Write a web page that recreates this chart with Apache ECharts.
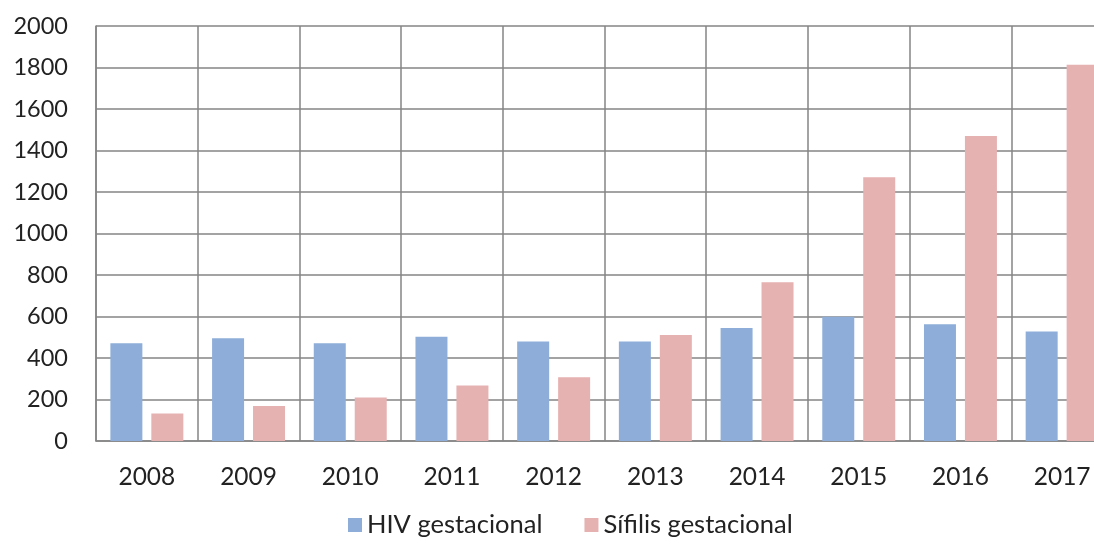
<!DOCTYPE html>
<html>
<head>
<meta charset="utf-8">
<script src="https://cdn.jsdelivr.net/npm/echarts@6/dist/echarts.min.js"></script>
<style>
  html, body { margin: 0; padding: 0; background: #fff; }
  #chart { width: 1094px; height: 551px; }
</style>
</head>
<body>
<div id="chart"></div>
<script>
// Years on the category axis
const years = ['2008', '2009', '2010', '2011', '2012', '2013', '2014', '2015', '2016', '2017'];
// Cases per year
const hivGestacional = [471, 495, 471, 503, 479, 479, 545, 599, 563, 528];
const sifilisGestacional = [133, 169, 210, 267, 307, 511, 765, 1271, 1470, 1813];
// Value axis ticks
const yTicks = [0, 200, 400, 600, 800, 1000, 1200, 1400, 1600, 1800, 2000];

const FONT = 'Lato';
const GRID_COLOR = '#858585';
const TEXT_COLOR = '#222222';

const chart = echarts.init(document.getElementById('chart'), null, { renderer: 'canvas' });
chart.setOption({
  backgroundColor: '#ffffff',
  animation: false,
  textStyle: { fontFamily: FONT },
  grid: {
    left: 96, top: 26, width: 1017, height: 415,
    containLabel: false,
    outerBoundsMode: 'none'
  },
  legend: {
    left: 343,
    top: 507,
    itemWidth: 14,
    itemHeight: 14,
    itemGap: 42,
    icon: 'rect',
    textStyle: { fontFamily: FONT, fontSize: 25.5, color: TEXT_COLOR },
    data: ['HIV gestacional', 'Sífilis gestacional']
  },
  xAxis: {
    type: 'category',
    data: years,
    boundaryGap: true,
    axisLine: { show: true, lineStyle: { color: GRID_COLOR, width: 1.5 } },
    axisTick: { show: false },
    splitLine: { show: true, lineStyle: { color: GRID_COLOR, width: 1.5 } },
    axisLabel: { fontFamily: FONT, fontSize: 24.5, color: TEXT_COLOR, margin: 24, interval: 0 }
  },
  yAxis: {
    type: 'value',
    min: yTicks[0],
    max: yTicks[yTicks.length - 1],
    interval: yTicks[1] - yTicks[0],
    axisLine: { show: true, lineStyle: { color: GRID_COLOR, width: 1.5 } },
    axisTick: { show: false },
    splitLine: { show: true, lineStyle: { color: GRID_COLOR, width: 1.5 } },
    axisLabel: {
      fontFamily: FONT, fontSize: 23.5, color: TEXT_COLOR, margin: 28,
      formatter: (v) => String(v)
    }
  },
  series: [
    {
      name: 'HIV gestacional',
      type: 'bar',
      data: hivGestacional,
      barWidth: 32,
      barGap: '28%',
      itemStyle: { color: '#8eaed9' }
    },
    {
      name: 'Sífilis gestacional',
      type: 'bar',
      data: sifilisGestacional,
      barWidth: 32,
      barGap: '28%',
      itemStyle: { color: '#e6b1b1' }
    }
  ]
});
</script>
</body>
</html>
